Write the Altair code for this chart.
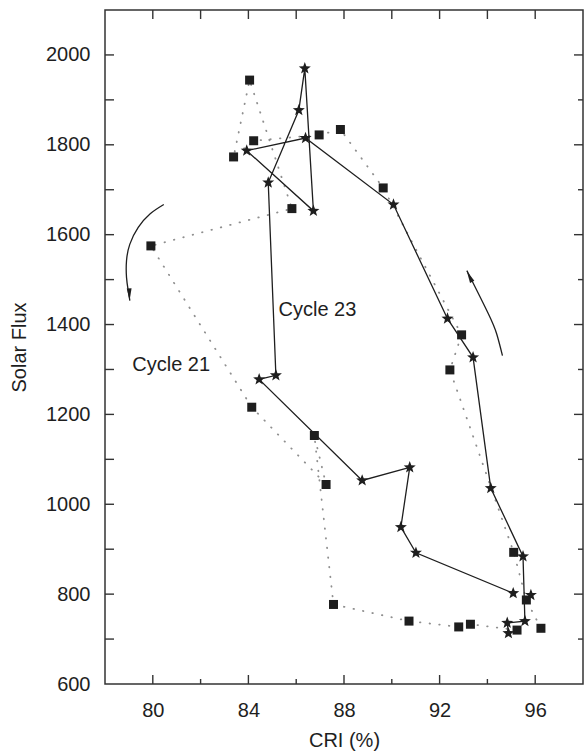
import altair as alt
import pandas as pd

FONT = "Liberation Sans"
INK = "#1e1e1e"

# ---- data ----
# Cycle 21 (squares, dotted grey path) in path order
cri21 = [96.24, 95.63, 95.10, 92.43, 92.92, 89.64, 87.85, 86.96, 84.22, 83.38, 84.05,
         85.82, 79.92, 84.14, 87.25, 86.76, 87.56, 90.72, 92.80, 93.29, 95.24]
flux21 = [724, 787, 893, 1299, 1377, 1704, 1834, 1822, 1809, 1773, 1944,
          1658, 1575, 1216, 1044, 1153, 777, 740, 727, 733, 720]

# Cycle 23 (stars, solid path); the last star is not joined
cri23 = [94.88, 94.83, 95.57, 95.49, 94.14, 93.40, 92.33, 90.07, 86.39, 83.93, 86.72,
         86.36, 86.11, 84.83, 85.15, 84.45, 88.76, 90.75, 90.38, 91.01, 95.08, 95.82]
flux23 = [713, 736, 740, 884, 1036, 1327, 1413, 1667, 1815, 1787, 1653,
          1970, 1877, 1716, 1287, 1278, 1053, 1082, 949, 892, 802, 798]
joined23 = 21

# annotations
label_text = ["Cycle 23", "Cycle 21"]
label_cri = [85.26, 79.14]
label_flux = [1420, 1296]

arrow_left_cri = [80.46, 79.88, 79.39, 79.04, 78.90, 78.90, 78.97, 79.04]
arrow_left_flux = [1667, 1646, 1616, 1579, 1542, 1505, 1476, 1453]
arrow_right_cri = [94.63, 94.39, 94.04, 93.35, 93.14]
arrow_right_flux = [1331, 1379, 1424, 1498, 1520]
head_cri = [79.02, 93.25]
head_flux = [1467, 1507]
head_angle = [178, 333]

# axes
x_labels = [80, 84, 88, 92, 96]
x_minor = [82, 86, 90, 94]
y_labels = [600, 800, 1000, 1200, 1400, 1600, 1800, 2000]
y_minor = [700, 900, 1100, 1300, 1500, 1700, 1900]
x_domain = [78, 98]
y_domain = [600, 2100]

W, H = 478, 674

# marker shapes (unit-square SVG paths)
STAR = ("M0,-1L0.247,-0.34L0.951,-0.309L0.399,0.13L0.588,0.809L0,0.42"
        "L-0.588,0.809L-0.399,0.13L-0.951,-0.309L-0.247,-0.34Z")
HEAD = "M0,-1L0.4,1L-0.4,1Z"

# ---- tables ----
d21 = pd.DataFrame({"cri": cri21, "flux": flux21, "i": range(len(cri21))})
d23 = pd.DataFrame({"cri": cri23, "flux": flux23, "i": range(len(cri23))})
d23line = d23.iloc[:joined23]
dlab = pd.DataFrame({"cri": label_cri, "flux": label_flux, "t": label_text})
darrL = pd.DataFrame({"cri": arrow_left_cri, "flux": arrow_left_flux, "i": range(len(arrow_left_cri))})
darrR = pd.DataFrame({"cri": arrow_right_cri, "flux": arrow_right_flux, "i": range(len(arrow_right_cri))})
dhead = pd.DataFrame({"cri": head_cri, "flux": head_flux, "a": head_angle})

xs = alt.Scale(domain=x_domain, nice=False, zero=False)
ys = alt.Scale(domain=y_domain, nice=False, zero=False)

xaxis = alt.Axis(values=x_labels, ticks=False, domain=False, grid=False, format="d",
                 labelFontSize=20, labelPadding=16, labelColor=INK, labelFont=FONT,
                 title="CRI (%)", titleFontSize=20, titleFont=FONT, titleFontWeight="normal",
                 titleColor=INK, titleBaseline="alphabetic", titleY=62)
yaxis = alt.Axis(values=y_labels, ticks=False, domain=False, grid=False, format="d",
                 labelFontSize=20, labelPadding=15, labelColor=INK, labelFont=FONT,
                 title="Solar Flux", titleFontSize=20, titleFont=FONT, titleFontWeight="normal",
                 titleColor=INK, titleBaseline="alphabetic", titleX=-80, titleAngle=270)


def X(field="cri"):
    return alt.X(f"{field}:Q", scale=xs, axis=xaxis)


def Y(field="flux"):
    return alt.Y(f"{field}:Q", scale=ys, axis=yaxis)


dotted = alt.Chart(d21).mark_line(color="#8f8f8f", strokeWidth=1.8, strokeDash=[0.5, 9.2],
                                  strokeCap="round").encode(
    x=X(), y=Y(), order=alt.Order("i:Q"))
solid = alt.Chart(d23line).mark_line(color=INK, strokeWidth=1.3).encode(
    x=X(), y=Y(), order=alt.Order("i:Q"))
squares = alt.Chart(d21).mark_point(shape="square", filled=True, size=81, color=INK, opacity=1).encode(
    x=X(), y=Y())
stars = alt.Chart(d23).mark_point(shape=STAR, filled=True, size=160, color=INK, opacity=1).encode(
    x=X(), y=Y())
labels = alt.Chart(dlab).mark_text(align="left", baseline="alphabetic", fontSize=20, font=FONT,
                                   color=INK).encode(x=X(), y=Y(), text="t:N")
arrL = alt.Chart(darrL).mark_line(color=INK, strokeWidth=1.3, interpolate="natural").encode(
    x=X(), y=Y(), order=alt.Order("i:Q"))
arrR = alt.Chart(darrR).mark_line(color=INK, strokeWidth=1.3, interpolate="natural").encode(
    x=X(), y=Y(), order=alt.Order("i:Q"))
heads = alt.Chart(dhead).mark_point(shape=HEAD, filled=True, size=144,
                                    color=INK, opacity=1).encode(
    x=X(), y=Y(), angle=alt.Angle("a:Q", scale=None))

# inward ticks
top_t = pd.DataFrame({"v": x_labels + x_minor})
left_t = pd.DataFrame({"v": y_labels[1:] + y_minor})
bot_major = pd.DataFrame({"v": x_labels})
bot_minor = pd.DataFrame({"v": x_minor})
right_major = pd.DataFrame({"v": y_labels[1:]})
right_minor = pd.DataFrame({"v": y_minor})
TK = "#333333"


def xt(df, y0, y1):
    return alt.Chart(df).mark_rule(color=TK, strokeWidth=1.4).encode(
        x=X("v"), y=alt.value(y0), y2=alt.value(y1))


def yt(df, x0, x1):
    return alt.Chart(df).mark_rule(color=TK, strokeWidth=1.4).encode(
        y=Y("v"), x=alt.value(x0), x2=alt.value(x1))


ticks = [xt(top_t, 0, 9), xt(bot_major, H, H - 9), xt(bot_minor, H, H - 5),
         yt(left_t, 0, 9), yt(right_major, W, W - 9), yt(right_minor, W, W - 5)]

chart = alt.layer(dotted, solid, arrL, arrR, heads, squares, stars, labels, *ticks).properties(
    width=W, height=H,
    autosize=alt.AutoSizeParams(type="none"),
    padding={"left": 105, "top": 10, "right": 2, "bottom": 68},
).configure_view(stroke="#333333", strokeWidth=1.5)

chart.save("out.html", embed_options={"renderer": "svg", "actions": False})
